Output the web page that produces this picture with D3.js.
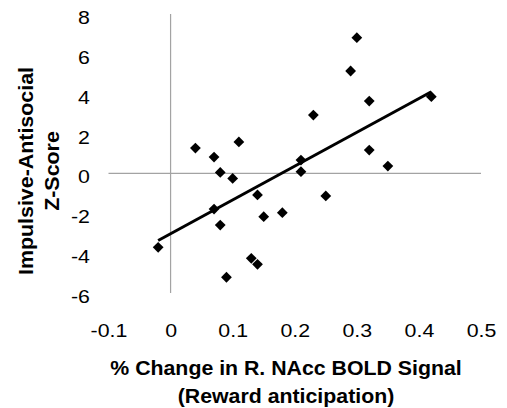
<!DOCTYPE html>
<html>
<head>
<meta charset="utf-8">
<script src="https://cdn.jsdelivr.net/npm/d3@7"></script>
<style>
  body { margin: 0; background: #fff; }
  text { font-family: "Liberation Sans", Arial, Helvetica, sans-serif; fill: #000; }
</style>
</head>
<body>
<div id="plot"></div>
<script>
// subject values
const nacc_change = [0.30, 0.29, 0.42, 0.32, 0.23, 0.04, 0.11, 0.07, 0.32, 0.35, 0.21, 0.21,
                     0.08, 0.10, 0.14, 0.25, 0.07, 0.18, 0.15, 0.08, -0.02, 0.13, 0.14, 0.09];
const ia_zscore = [6.81, 5.14, 3.85, 3.63, 2.93, 1.27, 1.58, 0.82, 1.17, 0.37, 0.67, 0.09,
                   0.05, -0.25, -1.08, -1.13, -1.79, -1.97, -2.17, -2.59, -3.71, -4.26, -4.56, -5.21];

const x_ticks = [-0.1, 0, 0.1, 0.2, 0.3, 0.4, 0.5];
const x_tick_labels = ["-0.1", "0", "0.1", "0.2", "0.3", "0.4", "0.5"];
const y_ticks = [-6, -4, -2, 0, 2, 4, 6, 8];
const y_tick_labels = ["-6", "-4", "-2", "0", "2", "4", "6", "8"];

const x_title = ["% Change in R. NAcc BOLD Signal", "(Reward anticipation)"];
const y_title = ["Impulsive-Antisocial", "Z-Score"];

const total_width = 507
const total_height = 408

var svg = d3.select("#plot")
  .append("svg")
  .attr("width", total_width)
  .attr("height", total_height);

var defs = svg.append("defs");
defs.append("filter").attr("id", "soft")
  .attr("x", "-50%").attr("y", "-50%").attr("width", "200%").attr("height", "200%")
  .append("feGaussianBlur").attr("stdDeviation", 0.6);

var x = d3.scaleLinear().domain([-0.1, 0.5]).range([108.5, 481]);
var y = d3.scaleLinear().domain([-6, 8]).range([293, 14]);

// axis lines crossing at zero
svg.append("line")
  .attr("x1", x(-0.1)).attr("x2", x(0.5))
  .attr("y1", y(0)).attr("y2", y(0))
  .attr("stroke", "#a3a3a3").attr("stroke-width", 1.2);
svg.append("line")
  .attr("x1", x(0)).attr("x2", x(0))
  .attr("y1", y(8)).attr("y2", y(-6))
  .attr("stroke", "#a3a3a3").attr("stroke-width", 1.2);

// tick labels sit low / left, as in the original spreadsheet chart
var xAxis = d3.axisBottom(x).tickValues(x_ticks).tickSize(0)
  .tickFormat(function(d, i) { return x_tick_labels[i]; });
var gx = svg.append("g").attr("transform", "translate(0," + y(-6) + ")").call(xAxis);
gx.select(".domain").remove();
gx.selectAll("text")
  .attr("y", 0).attr("dy", null)
  .attr("transform", "translate(0,43.5) scale(1.22,1)")
  .style("font-size", "17.5px")
  .style("font-family", "Liberation Sans, Arial, sans-serif")
  .attr("fill", "#000");

var yAxis = d3.axisLeft(y).tickValues(y_ticks).tickSize(0)
  .tickFormat(function(d, i) { return y_tick_labels[i]; });
var gy = svg.append("g").attr("transform", "translate(90,0)").call(yAxis);
gy.select(".domain").remove();
gy.selectAll("text")
  .attr("x", 0).attr("dy", null)
  .attr("transform", "translate(0,9.5) scale(1.22,1)")
  .style("font-size", "17.5px")
  .style("font-family", "Liberation Sans, Arial, sans-serif")
  .attr("fill", "#000");

// axis titles
svg.selectAll(".xtitle").data(x_title).enter().append("text")
  .attr("class", "xtitle")
  .attr("text-anchor", "middle")
  .attr("font-weight", "bold").attr("font-size", 20)
  .attr("transform", function(d, i) { return "translate(286," + (375 + i * 28) + ") scale(1.065,1)"; })
  .text(function(d) { return d; });

svg.selectAll(".ytitle").data(y_title).enter().append("text")
  .attr("class", "ytitle")
  .attr("text-anchor", "middle")
  .attr("font-weight", "bold").attr("font-size", 20)
  .attr("transform", function(d, i) { return "translate(" + (33.3 + i * 26) + ",171) rotate(-90) scale(1.07,1)"; })
  .text(function(d) { return d; });

// points
var points = nacc_change.map(function(v, i) { return {x: v, y: ia_zscore[i]}; });
var diamond = d3.symbol().type(d3.symbolSquare).size(58);
svg.append("g").attr("filter", "url(#soft)")
  .selectAll("path").data(points).enter().append("path")
  .attr("d", diamond)
  .attr("transform", function(d) { return "translate(" + x(d.x) + "," + y(d.y) + ") rotate(45)"; })
  .attr("fill", "#000");

// least squares trend line over the data range
var mx = d3.mean(nacc_change), my = d3.mean(ia_zscore);
var sxy = d3.sum(points, function(d) { return (d.x - mx) * (d.y - my); });
var sxx = d3.sum(points, function(d) { return (d.x - mx) * (d.x - mx); });
var slope = sxy / sxx, intercept = my - slope * mx;
var ends = d3.extent(nacc_change);
svg.append("path")
  .datum(ends.map(function(v) { return [v, intercept + slope * v]; }))
  .attr("fill", "none").attr("stroke", "#000").attr("stroke-width", 3)
  .attr("d", d3.line().x(function(d) { return x(d[0]); }).y(function(d) { return y(d[1]); }));
</script>
</body>
</html>
